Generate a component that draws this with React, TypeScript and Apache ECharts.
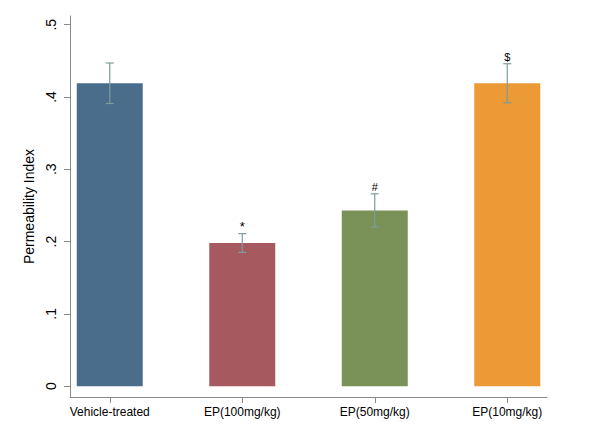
import React, { useEffect, useRef } from "react";
import * as echarts from "echarts";

const categories = ["Vehicle-treated", "EP(100mg/kg)", "EP(50mg/kg)", "EP(10mg/kg)"];
const means = [0.419, 0.198, 0.243, 0.419];
const errors = [0.028, 0.013, 0.023, 0.027];
const marks = ["", "*", "#", "$"];
const colors = ["#4a6d8c", "#a65a60", "#7a9157", "#eb9a36"];
const yTicks = [0, 0.1, 0.2, 0.3, 0.4, 0.5];
const yTickLabels = ["0", ".1", ".2", ".3", ".4", ".5"];

export default function App() {
  const ref = useRef<HTMLDivElement>(null);
  useEffect(() => {
    if (!ref.current) return;
    const chart = echarts.init(ref.current, null, { renderer: "svg" });
    const font = "Liberation Sans, Arial, sans-serif";
    chart.setOption({
      animation: false,
      backgroundColor: "#ffffff",
      grid: { left: 70, right: 53, top: 16, bottom: 40 },
      xAxis: {
        type: "value",
        min: -0.3,
        max: 3.3,
        splitLine: { show: false },
        axisLine: { show: true, onZero: false, lineStyle: { color: "#8a8a8a", width: 1 } },
        axisTick: { show: true, length: 6, lineStyle: { color: "#8a8a8a" }, customValues: [0, 1, 2, 3] },
        axisLabel: {
          customValues: [0, 1, 2, 3],
          formatter: (v: number) => categories[Math.round(v)] ?? "",
          color: "#000",
          fontSize: 12,
          fontFamily: font,
          margin: 9,
        },
      },
      yAxis: {
        type: "value",
        min: -0.015,
        max: 0.512,
        name: "Permeability Index",
        nameLocation: "middle",
        nameGap: 33,
        nameRotate: 90,
        nameTextStyle: { color: "#000", fontSize: 14, fontFamily: font },
        splitLine: { show: false },
        axisLine: { show: true, onZero: false, lineStyle: { color: "#8a8a8a", width: 1 } },
        axisTick: { show: true, length: 6, lineStyle: { color: "#8a8a8a" }, customValues: yTicks },
        axisLabel: {
          customValues: yTicks,
          rotate: 90,
          formatter: (v: number) => {
            const i = yTicks.findIndex((t) => Math.abs(t - v) < 1e-6);
            return i >= 0 ? yTickLabels[i] : "";
          },
          color: "#000",
          fontSize: 14,
          fontFamily: font,
          margin: 12,
        },
      },
      series: [
        {
          type: "bar",
          barWidth: 66,
          data: means.map((m, i) => ({ value: [i, m], itemStyle: { color: colors[i] } })),
        },
        {
          type: "custom",
          data: means.map((m, i) => [i, m, errors[i]]),
          renderItem: (params: any, api: any) => {
            const i = api.value(0);
            const m = api.value(1);
            const e = api.value(2);
            const top = api.coord([i, m + e]);
            const bot = api.coord([i, m - e]);
            const cw = 4;
            const ls = { stroke: "#7d9c9c", lineWidth: 1.2 };
            const children: any[] = [
              { type: "line", shape: { x1: top[0], y1: top[1], x2: bot[0], y2: bot[1] }, style: ls },
              { type: "line", shape: { x1: top[0] - cw, y1: top[1], x2: top[0] + cw, y2: top[1] }, style: ls },
              { type: "line", shape: { x1: bot[0] - cw, y1: bot[1], x2: bot[0] + cw, y2: bot[1] }, style: ls },
            ];
            const mk = marks[params.dataIndex];
            if (mk) {
              children.push({
                type: "text",
                x: top[0],
                y: top[1] - 1,
                style: {
                  text: mk,
                  fill: "#000",
                  fontSize: mk === "*" ? 13 : 11,
                  fontFamily: font,
                  align: "center",
                  verticalAlign: "bottom",
                },
              });
            }
            return { type: "group", children };
          },
          z: 5,
        },
      ],
    });
    return () => chart.dispose();
  }, []);
  return (
    <div
      style={{
        position: "fixed",
        left: 0,
        top: 0,
        width: 600,
        height: 437,
        boxSizing: "border-box",
        border: "2px solid #eef3f4",
        background: "#fff",
      }}
    >
      <div ref={ref} style={{ position: "absolute", left: -2, top: -2, width: 600, height: 437 }} />
    </div>
  );
}
